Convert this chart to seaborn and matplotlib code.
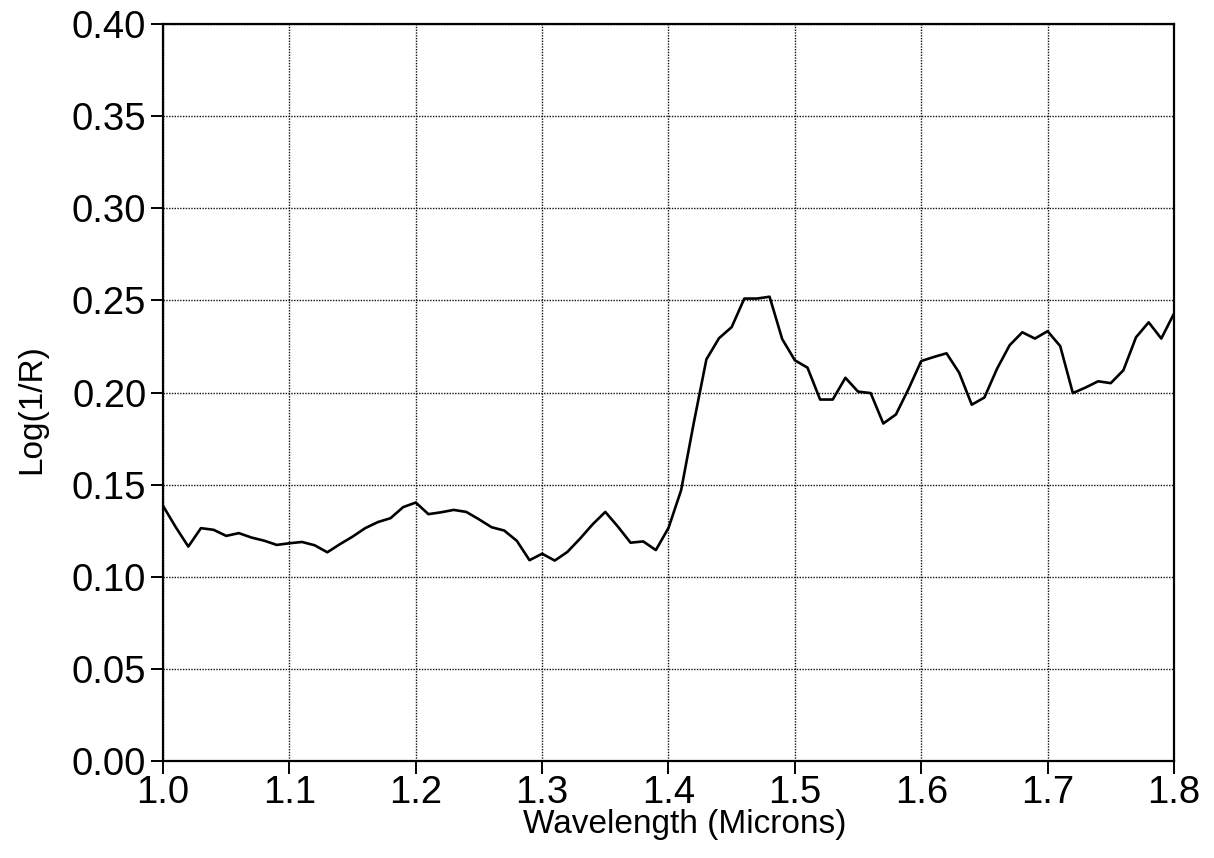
import numpy as np
import pandas as pd
import matplotlib
matplotlib.use("Agg")
import matplotlib.pyplot as plt
import seaborn as sns

wavelength = [round(1.00 + 0.01 * i, 2) for i in range(81)]
log_inv_r = [
    0.1385, 0.1270, 0.1164, 0.1264, 0.1255, 0.1222, 0.1237, 0.1213, 0.1196, 0.1173,
    0.1182, 0.1189, 0.1171, 0.1133, 0.1177, 0.1218, 0.1264, 0.1297, 0.1318, 0.1378,
    0.1403, 0.1340, 0.1350, 0.1363, 0.1352, 0.1312, 0.1269, 0.1251, 0.1195, 0.1090,
    0.1125, 0.1088, 0.1135, 0.1207, 0.1285, 0.1352, 0.1272, 0.1185, 0.1192, 0.1145,
    0.1265, 0.1470, 0.1835, 0.2180, 0.2295, 0.2355, 0.2510, 0.2510, 0.2520, 0.2290,
    0.2175, 0.2135, 0.1962, 0.1962, 0.2080, 0.2005, 0.1997, 0.1832, 0.1881, 0.2020,
    0.2171, 0.2193, 0.2213, 0.2108, 0.1934, 0.1973, 0.2129, 0.2257, 0.2327, 0.2293,
    0.2333, 0.2252, 0.1997, 0.2027, 0.2061, 0.2051, 0.2121, 0.2300, 0.2381, 0.2293,
    0.2428,
]
x_ticks = [1.0, 1.1, 1.2, 1.3, 1.4, 1.5, 1.6, 1.7, 1.8]
y_ticks = [0.00, 0.05, 0.10, 0.15, 0.20, 0.25, 0.30, 0.35, 0.40]

df = pd.DataFrame({"Wavelength": wavelength, "Log(1/R)": log_inv_r})

sns.set_theme(style="ticks")
plt.rcParams["font.family"] = ["Liberation Sans", "DejaVu Sans"]

fig = plt.figure(figsize=(12.14, 8.58), dpi=100)
ax = fig.add_axes([0.1343, 0.113, 0.8327, 0.859])

sns.lineplot(data=df, x="Wavelength", y="Log(1/R)", ax=ax, color="black",
             linewidth=1.9, zorder=3)

ax.set_xlim(1.0, 1.8)
ax.set_ylim(0.0, 0.40)
ax.set_xticks(x_ticks)
ax.set_xticklabels([f"{t:.1f}" for t in x_ticks])
ax.set_yticks(y_ticks)
ax.set_yticklabels([f"{t:.2f}" for t in y_ticks])

ax.grid(True, color="#111111", linestyle=(0, (1, 1)), linewidth=1.0, zorder=1)
for s in ax.spines.values():
    s.set_visible(True)
    s.set_linewidth(1.6)
    s.set_color("black")

ax.tick_params(axis="both", direction="out", length=9, width=1.4,
               labelsize=27.5, colors="black")
ax.tick_params(axis="x", pad=1)
ax.tick_params(axis="y", pad=3)
ax.set_xlabel("Wavelength (Microns)", fontsize=24, color="black")
ax.set_ylabel("Log(1/R)", fontsize=24, color="black")
ax.xaxis.set_label_coords(0.516, -0.065)
ax.yaxis.set_label_coords(-0.115, 0.478)

fig.savefig("out.png", dpi=100, facecolor="white")
